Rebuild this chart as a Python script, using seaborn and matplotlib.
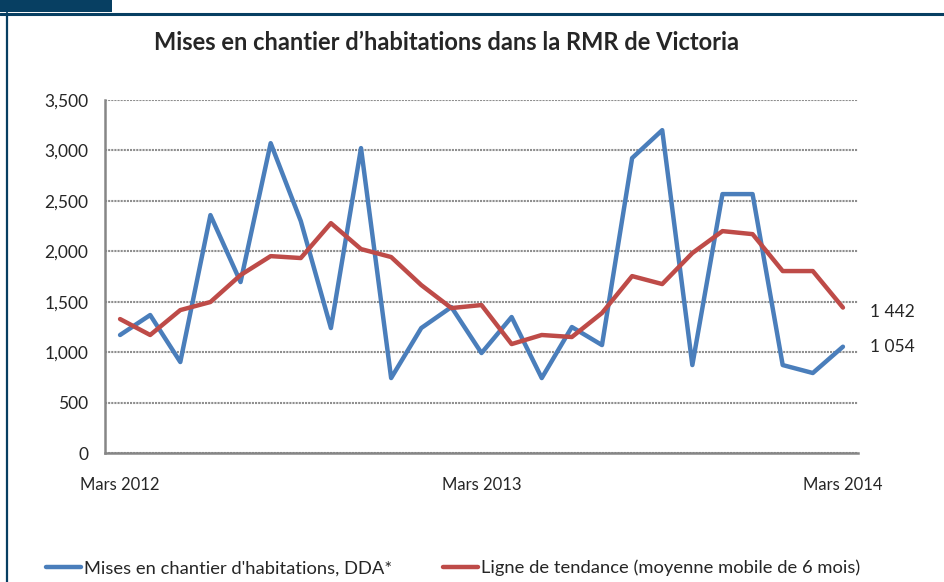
import matplotlib
matplotlib.use("Agg")
import matplotlib.pyplot as plt
from matplotlib.patches import Rectangle
from matplotlib.lines import Line2D
from matplotlib.ticker import FuncFormatter
import seaborn as sns
import pandas as pd

# Données
mois = list(range(25))  # mars 2012 -> mars 2014
etiquettes_x = {0: "Mars 2012", 12: "Mars 2013", 24: "Mars 2014"}
mises_chantier = [1170, 1368, 902, 2359, 1695, 3072, 2300, 1239, 3023, 743,
                  1239, 1447, 991, 1348, 743, 1249, 1070, 2924, 3201, 872,
                  2567, 2567, 872, 793, 1054]
tendance = [1328, 1170, 1417, 1497, 1764, 1952, 1933, 2279, 2022, 1943,
            1665, 1437, 1467, 1080, 1170, 1150, 1388, 1754, 1675, 1982,
            2200, 2170, 1804, 1804, 1442]
nom_serie1 = "Mises en chantier d'habitations, DDA*"
nom_serie2 = "Ligne de tendance (moyenne mobile de 6 mois)"

BLEU = "#4A7EBB"
ROUGE = "#BE4B48"
CADRE = "#073F62"
GRIS_AXE = "#868686"

sns.set_style("white")
plt.rcParams["font.family"] = ["Lato", "DejaVu Sans"]

df = pd.DataFrame({
    "mois": mois * 2,
    "valeur": mises_chantier + tendance,
    "serie": [nom_serie1] * len(mois) + [nom_serie2] * len(mois),
})

fig = plt.figure(figsize=(9.45, 5.82), dpi=100)
ax = fig.add_axes([105 / 945, 1 - 453 / 582, (858 - 105) / 945, (453 - 100) / 582])

sns.lineplot(data=df, x="mois", y="valeur", hue="serie",
             palette=[BLEU, ROUGE], linewidth=3.2, legend=False, ax=ax)

ax.set_xlim(-0.5, 24.5)
ax.set_ylim(0, 3500)
ax.set_yticks(range(0, 3501, 500))
ax.yaxis.set_major_formatter(FuncFormatter(lambda v, p: f"{int(v):,}"))
ax.grid(axis="y", color="#8E8E8E", linestyle=(0, (1, 0.5)), linewidth=1.5)
ax.grid(axis="x", visible=False)
ax.set_axisbelow(True)

# ticks aux frontières, étiquettes au centre des catégories
ax.set_xticks([-0.5, 11.5, 23.5])
ax.set_xticklabels([])
ax.set_xticks(list(etiquettes_x.keys()), minor=True)
ax.set_xticklabels(list(etiquettes_x.values()), minor=True)
ax.tick_params(axis="x", which="major", length=5, width=1.4, color=GRIS_AXE, direction="out")
ax.tick_params(axis="x", which="minor", length=0, pad=17, labelsize=12)
ax.tick_params(axis="y", length=5, width=1.4, color=GRIS_AXE, direction="out", pad=7, labelsize=12.5)
ax.set_xlabel("")
ax.set_ylabel("")

for s in ["top", "right"]:
    ax.spines[s].set_visible(False)
for s in ["left", "bottom"]:
    ax.spines[s].set_color(GRIS_AXE)
    ax.spines[s].set_linewidth(1.8)

# étiquettes des dernières valeurs
ax.annotate("1 442", xy=(mois[-1], tendance[-1]), xytext=(52, -3),
            textcoords="offset points", ha="right", va="center", fontsize=12.5)
ax.annotate("1 054", xy=(mois[-1], mises_chantier[-1]), xytext=(52, 0),
            textcoords="offset points", ha="right", va="center", fontsize=12.5)

fig.text(447 / 945, 1 - 42 / 582, "Mises en chantier d\u2019habitations dans la RMR de Victoria",
         ha="center", va="center", fontsize=17, fontweight="bold")

# légende
handles = [Line2D([], [], color=BLEU, linewidth=3.2),
           Line2D([], [], color=ROUGE, linewidth=3.2)]
fig.legend(handles, [nom_serie1, nom_serie2], loc="center left",
           bbox_to_anchor=(46 / 945, 1 - 568 / 582), ncol=2, frameon=False,
           fontsize=13.2, handlelength=1.9, handletextpad=0.15, columnspacing=2.8,
           borderaxespad=0, borderpad=0)

# cadre de la figure
fig.add_artist(Rectangle((0, 1 - 12 / 582), 112 / 945, 12 / 582,
                         transform=fig.transFigure, color=CADRE, lw=0))
fig.add_artist(Line2D([0, 1], [1 - 13.5 / 582, 1 - 13.5 / 582],
                      transform=fig.transFigure, color=CADRE, linewidth=2.2))
fig.add_artist(Line2D([7 / 945, 7 / 945], [0, 1 - 13 / 582],
                      transform=fig.transFigure, color=CADRE, linewidth=1.6))

fig.savefig("out.png", dpi=100)
